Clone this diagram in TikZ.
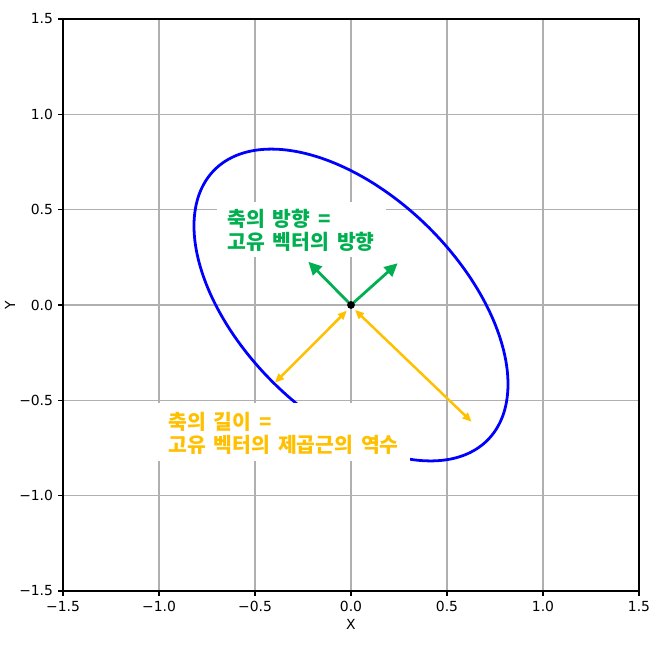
\documentclass[tikz,border=0pt]{standalone}
\usepackage{fontspec}
\newfontfamily\tickfont{DejaVu Sans}
\newfontfamily\korfont{Noto Sans CJK KR}[WordSpace=1.7]
\usetikzlibrary{arrows.meta}
\definecolor{gridgray}{RGB}{176,176,176}
\definecolor{eggreen}{RGB}{0,176,80}
\definecolor{egorange}{RGB}{255,192,0}
\tikzset{
  gridline/.style={draw=gridgray, line width=0.8pt},
  frameline/.style={draw=black, line width=0.8pt},
  tickline/.style={draw=black, line width=0.8pt},
  ticklabel/.style={font=\tickfont\fontsize{10pt}{12pt}\selectfont, inner sep=0pt},
  ellipseline/.style={draw=blue, line width=2pt},
  greenarrow/.style={draw=eggreen, line width=2pt, -{Triangle[length=9.5pt,width=9pt]}},
  orangearrow/.style={draw=egorange, line width=1.8pt, {Triangle[length=6.5pt,width=5.5pt]}-{Triangle[length=6.5pt,width=5.5pt]}},
  greenlabel/.style={font=\korfont\bfseries\fontsize{14.7pt}{18pt}\selectfont, text=eggreen, inner sep=0pt, anchor=base west},
  orangelabel/.style={font=\korfont\bfseries\fontsize{14.7pt}{18pt}\selectfont, text=egorange, inner sep=0pt, anchor=base west},
}
\begin{document}
\begin{tikzpicture}[x=138.24pt,y=137.28pt]
\useasboundingbox (-1.8281,-1.7832) rectangle (1.6563,1.5997);
% grid
\foreach \v in {-1.5,-1,-0.5,0,0.5,1,1.5}{
  \draw[gridline] (\v,-1.5) -- (\v,1.5);
  \draw[gridline] (-1.5,\v) -- (1.5,\v);
}
% ellipse
\draw[ellipseline] plot[domain=0:360, samples=241, variable=\t]
  ({(1.004*cos(\t)+0.574*sin(\t))/sqrt(2)}, {(0.574*sin(\t)-1.004*cos(\t))/sqrt(2)}) -- cycle;
% arrows
\coordinate (o) at (0,0);
\coordinate (g1) at (-0.222,0.227);
\coordinate (g2) at (0.243,0.219);
\coordinate (a1s) at (-0.022,-0.030);
\coordinate (a1e) at (-0.396,-0.407);
\coordinate (a2s) at (0.021,-0.026);
\coordinate (a2e) at (0.628,-0.612);
\draw[greenarrow] (o) -- (g1);
\draw[greenarrow] (o) -- (g2);
\draw[orangearrow] (a1s) -- (a1e);
\draw[orangearrow] (a2s) -- (a2e);
\fill[black] (o) circle (2.8pt);
% labels
\fill[white] (-0.698,0.540) rectangle (0.182,0.252);
\node[greenlabel] (gl1) at (-0.646,0.4143) {축의 방향 =};
\node[greenlabel] (gl2) at (-0.646,0.2937) {고유 벡터의 방향};
\fill[white] (-1.005,-0.514) rectangle (0.307,-0.818);
\node[orangelabel] (ol1) at (-0.953,-0.655) {축의 길이 =};
\node[orangelabel] (ol2) at (-0.953,-0.7756) {고유 벡터의 제곱근의 역수};
% frame and ticks
\draw[frameline] (-1.5,-1.5) rectangle (1.5,1.5);
\foreach \v/\t in {-1.5/−1.5,-1/−1.0,-0.5/−0.5,0/0.0,0.5/0.5,1/1.0,1.5/1.5}{
  \draw[tickline] (\v,-1.5) -- ++(0,-3.5pt);
  \node[ticklabel, anchor=north] (xt\v) at ([yshift=-7pt]\v,-1.5) {\t};
  \draw[tickline] (-1.5,\v) -- ++(-3.5pt,0);
  \node[ticklabel, anchor=east] (yt\v) at ([xshift=-7pt]-1.5,\v) {\t};
}
\node[ticklabel] (xlab) at (0,-1.673) {X};
\node[ticklabel, rotate=90] (ylab) at (-1.776,0) {Y};
\end{tikzpicture}
\end{document}
